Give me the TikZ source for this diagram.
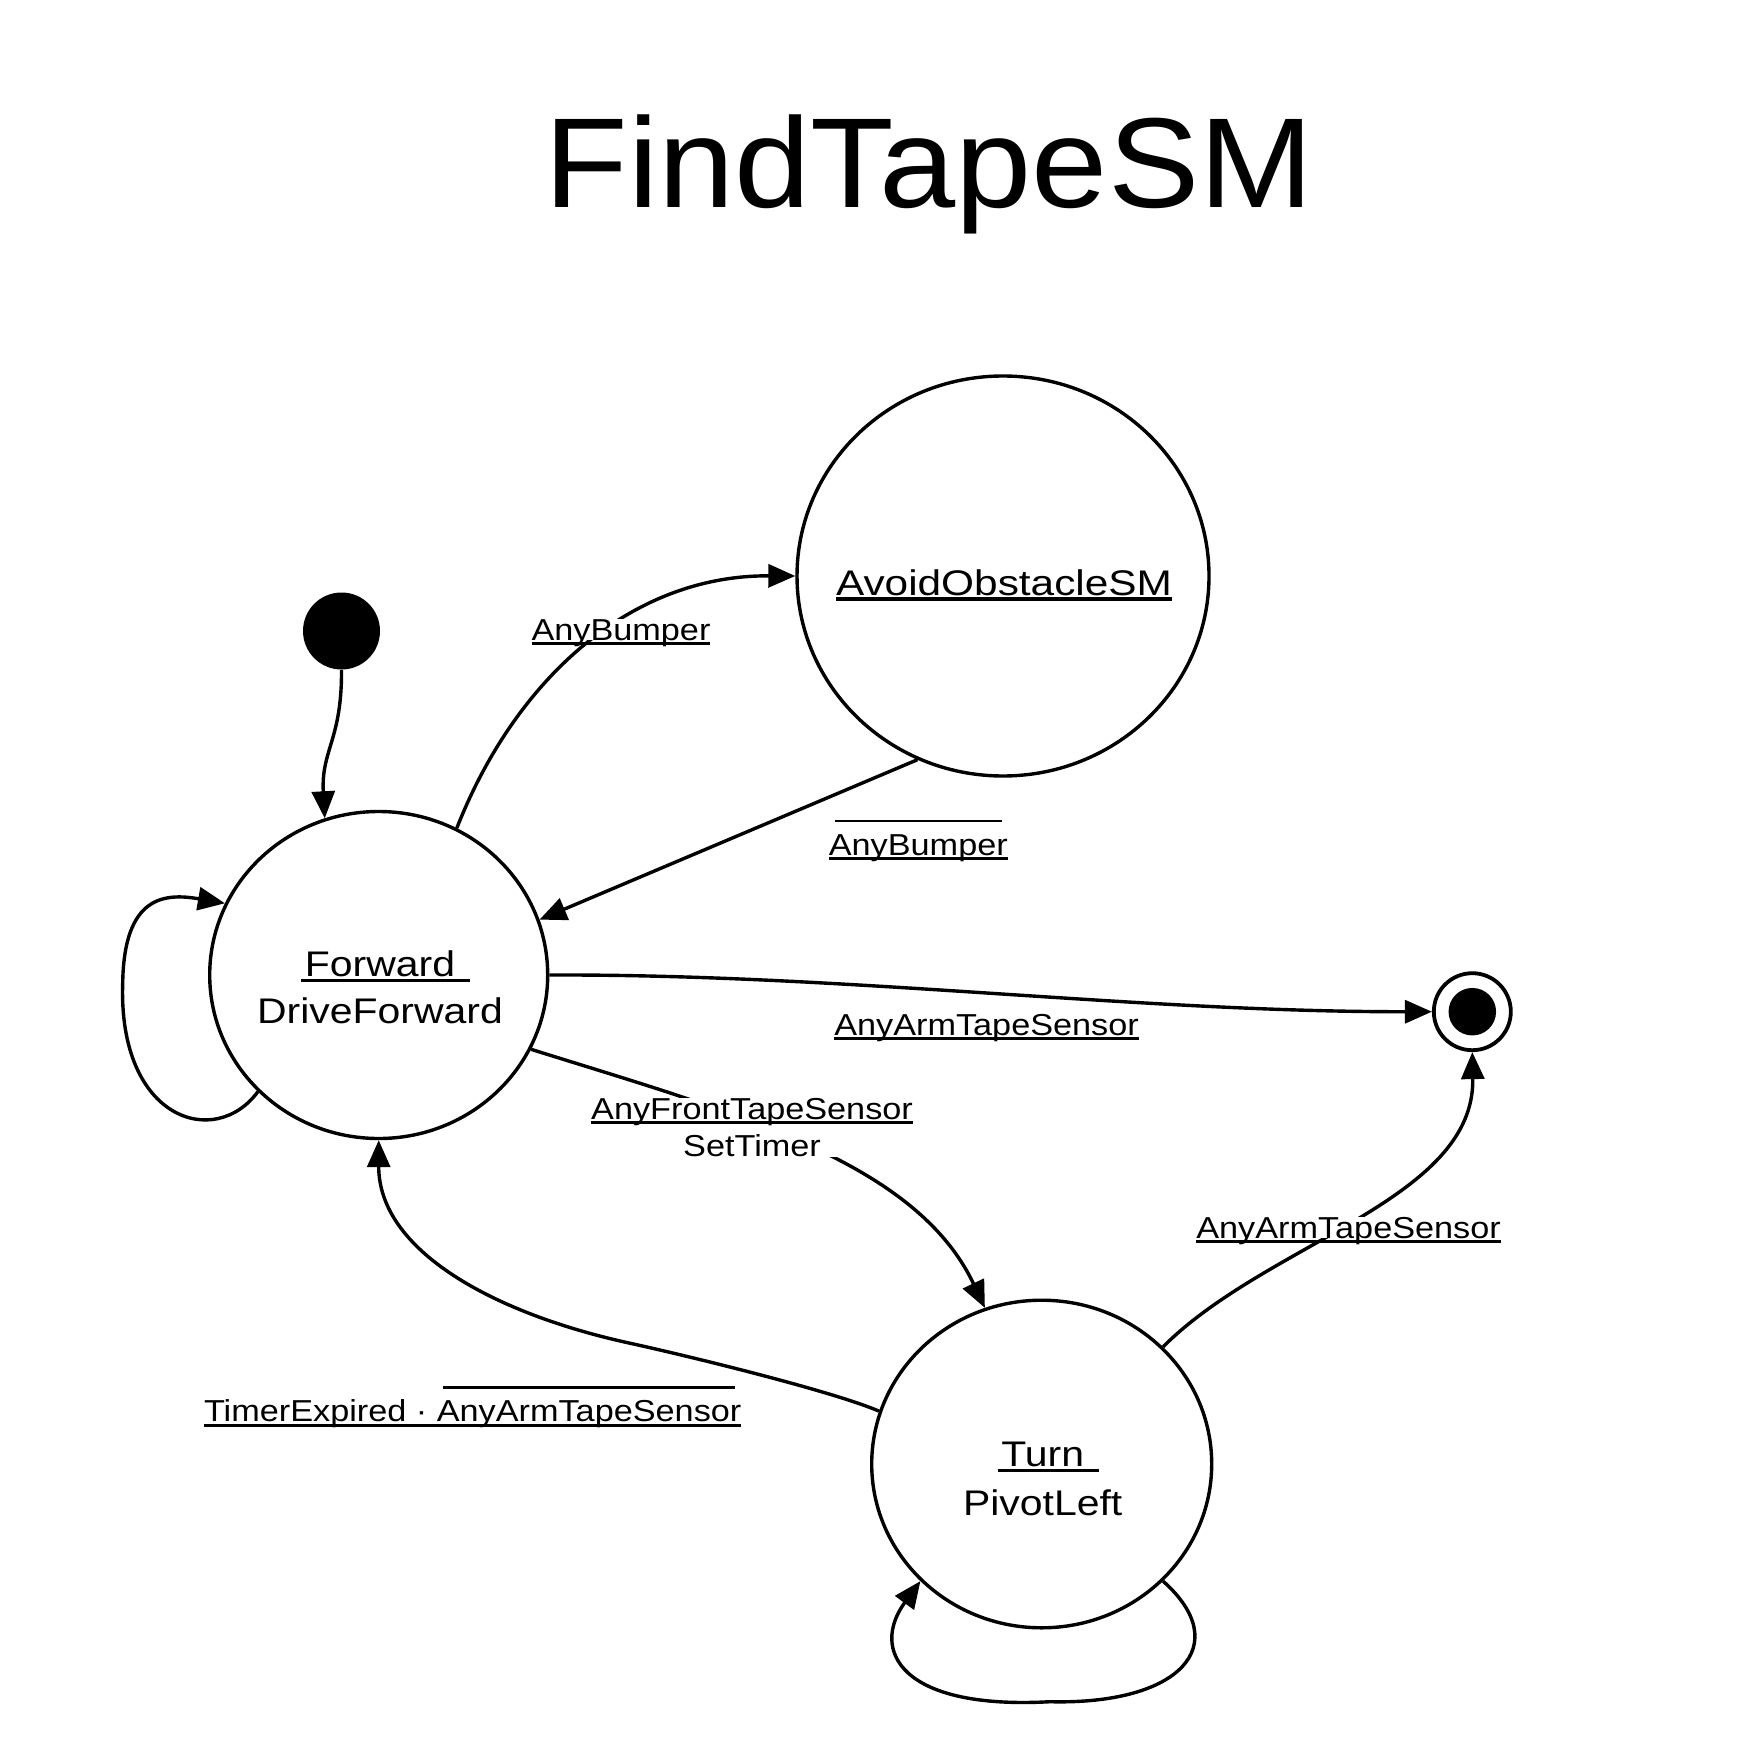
\documentclass[tikz,border=0pt]{standalone}
\usepackage{fontspec}
\setmainfont{Liberation Sans}[FakeStretch=1.13]
\newfontfamily\statefont{Liberation Sans}[FakeStretch=1.15]
\newfontfamily\widestatefont{Liberation Sans}[FakeStretch=1.19]
\newfontfamily\titlefont{Liberation Sans}[FakeStretch=1.07]
\usetikzlibrary{shapes.geometric,arrows.meta}
\newsavebox\ulbox
\newsavebox\ovbox
\newcommand\ulin[1]{\sbox\ulbox{#1}\rlap{\rule[-0.16em]{\wd\ulbox}{0.09em}}\usebox\ulbox}
\newcommand\ulext[1]{\sbox\ulbox{#1}\rlap{\hspace{-0.1em}\rule[-0.16em]{\dimexpr\wd\ulbox+0.52em\relax}{0.09em}}\usebox\ulbox}
\newcommand\ovl[1]{\sbox\ovbox{#1}\rlap{\hspace{0.2em}\rule[1.075em]{\dimexpr\wd\ovbox-0.4em\relax}{0.09em}}\usebox\ovbox}
\newcommand\twoline[3]{\vtop{\baselineskip=#3\lineskiplimit=-20pt\halign{\hfil##\hfil\cr#1\cr#2\cr}}}
\begin{document}
\begin{tikzpicture}[x=0.5pt,y=-0.5pt,
  state/.style={draw, ellipse, line width=1.7pt, inner sep=0pt},
  statetext/.style={anchor=base, inner sep=0pt, font=\statefont\fontsize{17.8pt}{22pt}\selectfont},
  lbl/.style={anchor=base, inner sep=0pt, fill=white, font=\fontsize{15.15pt}{19pt}\selectfont},
  flatlbl/.style={lbl, text depth=0pt},
  titletext/.style={anchor=base, inner sep=0pt, font=\titlefont\fontsize{64pt}{70pt}\selectfont},
  initstate/.style={circle, fill=black, minimum size=38.5pt, inner sep=0pt},
  finalstate/.style={circle, draw, fill=white, line width=1.9pt, minimum size=38.5pt, inner sep=0pt},
  finaldot/.style={circle, fill=black, minimum size=23.75pt, inner sep=0pt},
  edge/.style={line width=1.7pt, -{Triangle[length=13.5pt,width=11.5pt]}}
]
\fill[white] (0,0) rectangle (1740,1764);
\useasboundingbox (0,0) rectangle (1740,1764);

\node[titletext] (title) at (929,208) {FindTapeSM};

\node[state, minimum width=169pt, minimum height=163.5pt] (fwd) at (378.7,975) {};
\node[state, minimum width=206pt, minimum height=200pt] (avoid) at (1003,576) {};
\node[state, minimum width=170pt, minimum height=163.8pt] (turn) at (1041.7,1464) {};
\node[initstate] (init) at (341.5,631) {};
\node[finalstate] (fin) at (1472.3,1011.7) {};
\node[finaldot] (findot) at (fin.center) {};

\node[statetext] (fwdtxt) at (380,976.7) {\twoline{\ulext{Forward}}{DriveForward}{23.3pt}};
\node[statetext, font=\widestatefont\fontsize{17.8pt}{22pt}\selectfont] (avoidtxt) at (1004,595) {\ulin{AvoidObstacleSM}};
\node[statetext] (turntxt) at (1042.7,1466) {\twoline{\ulext{Turn}}{PivotLeft}{24.5pt}};

\coordinate (fl) at (122.7,983);
\coordinate (tl) at (1050,1701.7);
\coordinate (m) at (629,1343);

% initial -> Forward
\draw[edge] (init.south) .. controls (342,740) and (321,750) .. (fwd.109);
% Forward -> AvoidObstacleSM
\draw[edge] (fwd.62) .. controls (515,680) and (630,575) .. (avoid.west);
% AvoidObstacleSM -> Forward
\draw[edge] (avoid.245) -- (fwd.19);
% Forward -> final
\draw[edge] (fwd.east) .. controls (848,974) and (1135,1012) .. (fin.west);
% Forward -> Turn
\draw[edge] (fwd.334) .. controls (731,1112) and (915,1160) .. (turn.110);
% Turn -> final
\draw[edge] (turn.44) .. controls (1268,1241.7) and (1475,1200) .. (fin.south);
% Turn -> Forward
\draw[edge] (turn.162) .. controls (832.8,1391.2) and (687.6,1355.8) .. (m) .. controls (492.2,1313) and (378.7,1250) .. (fwd.south);
% Forward self loop
\draw[edge] (fwd.224) .. controls (215,1150) and (118,1120) .. (fl) .. controls (124,895) and (165,893) .. (fwd.155);
% Turn self loop
\draw[edge] (turn.316) .. controls (1235,1645) and (1180,1705) .. (tl) .. controls (900,1710) and (870,1650) .. (turn.224);

\node[flatlbl] (l1) at (621,640) {\ulin{AnyBumper}};
\node[lbl] (l2) at (918.3,855) {\ulin{\ovl{AnyBumper}}};
\node[lbl] (l3) at (986.5,1035) {\ulin{AnyArmTapeSensor}};
\node[lbl] (l4) at (752,1119) {\twoline{\ulin{AnyFrontTapeSensor}}{SetTimer}{18.85pt}};
\node[flatlbl] (l5) at (1348.5,1238.3) {\ulin{AnyArmTapeSensor}};
\node[lbl] (l6) at (472.7,1421.7) {\ulin{TimerExpired · \ovl{AnyArmTapeSensor}}};
\end{tikzpicture}
\end{document}
